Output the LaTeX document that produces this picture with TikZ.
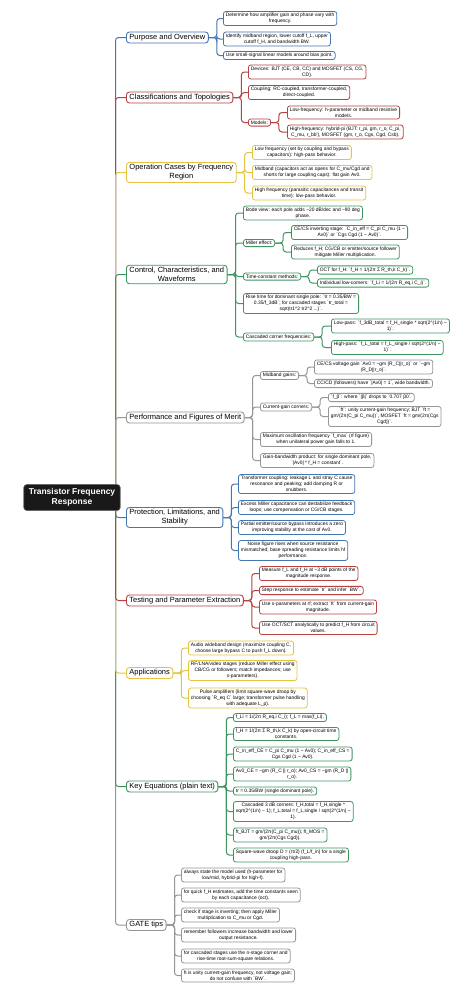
\documentclass[tikz,border=0pt]{standalone}
\usepackage{fontspec}
\newfontfamily\lsans{Liberation Sans}
\usetikzlibrary{backgrounds}
\definecolor{cB}{RGB}{70,118,178}
\definecolor{cR}{RGB}{184,66,66}
\definecolor{cY}{RGB}{228,196,64}
\definecolor{cG}{RGB}{62,150,94}
\definecolor{cK}{RGB}{150,150,150}
\newcommand\crt{\textasciicircum{}}
\tikzset{
  mainnode/.style={draw=#1, fill=white, rounded corners=3pt, line width=0.9pt, align=center, anchor=west, font=\lsans\fontsize{7.5}{9}\selectfont, inner xsep=3pt, inner ysep=2pt},
  leafnode/.style={draw=#1, fill=white, rounded corners=2.5pt, line width=0.8pt, align=center, anchor=west, font=\lsans\fontsize{4.9}{5.9}\selectfont, inner xsep=2.5pt, inner ysep=1.8pt},
  rootnode/.style={fill=black!90, draw=black!60, rounded corners=3pt, line width=0.6pt, align=center, text=white, font=\lsans\bfseries\fontsize{8.5}{10}\selectfont, inner xsep=5pt, inner ysep=4pt},
  link/.style={draw=#1, line width=1pt, rounded corners=3pt},
}
\begin{document}
\begin{tikzpicture}[x=1pt,y=-1pt]
\useasboundingbox (0,0) rectangle (474,994);

\node[rootnode] (root) at (72,497.5) {Transistor Frequency\\Response};

% main branches
\node[mainnode=cB] (pur) at (126,37.5) {Purpose and Overview};
\node[mainnode=cR] (cls) at (126,97.5) {Classifications and Topologies};
\node[mainnode=cY] (ope) at (126,172.5) {Operation Cases by Frequency\\Region};
\node[mainnode=cG] (ctl) at (126,274.5) {Control, Characteristics, and\\Waveforms};
\node[mainnode=cK] (prf) at (126,417.5) {Performance and Figures of Merit};
\node[mainnode=cB] (prt) at (126,517.5) {Protection, Limitations, and\\Stability};
\node[mainnode=cR] (tst) at (126,600.5) {Testing and Parameter Extraction};
\node[mainnode=cY] (app) at (126,673) {Applications};
\node[mainnode=cG] (keq) at (126,786.5) {Key Equations (plain text)};
\node[mainnode=cK] (gat) at (126,925) {GATE tips};

% Purpose
\node[leafnode=cB] (p1) at (223,18.5) {Determine how amplifier gain and phase vary with\\frequency.};
\node[leafnode=cB] (p2) at (223,39) {Identify midband region, lower cutoff f\_L, upper\\cutoff f\_H, and bandwidth BW.};
\node[leafnode=cB] (p3) at (223,55.5) {Use small-signal linear models around bias point.};

% Classifications
\node[leafnode=cR] (c1) at (248,72) {Devices: BJT (CE, CB, CC) and MOSFET (CS, CG,\\CD).};
\node[leafnode=cR] (c2) at (248,92.5) {Coupling: RC-coupled, transformer-coupled,\\direct-coupled.};
\node[leafnode=cR] (c3) at (248,122.5) {Models:};
\node[leafnode=cR] (c3a) at (287,112.5) {Low-frequency: h-parameter or midband resistive\\models.};
\node[leafnode=cR] (c3b) at (287,132) {High-frequency: hybrid-pi (BJT: r\_pi, gm, r\_o, C\_pi,\\C\_mu, r\_bb'), MOSFET (gm, r\_o, Cgs, Cgd, Csb).};

% Operation
\node[leafnode=cY] (o1) at (252,152.5) {Low frequency (set by coupling and bypass\\capacitors): high-pass behavior.};
\node[leafnode=cY] (o2) at (252,172.5) {Midband (capacitors act as opens for C\_mu/Cgd and\\shorts for large coupling caps): flat gain Av0.};
\node[leafnode=cY] (o3) at (252,193) {High frequency (parasitic capacitances and transit\\time): low-pass behavior.};

% Control
\node[leafnode=cG] (k1) at (243,213) {Bode view: each pole adds −20 dB/dec and −90 deg\\phase.};
\node[leafnode=cG] (k2) at (243,243) {Miller effect:};
\node[leafnode=cG] (k2a) at (291,232.5) {CE/CS inverting stage: `C\_in\_eff = C\_pi C\_mu (1 −\\Av0)` or `Cgs Cgd (1 − Av0)`.};
\node[leafnode=cG] (k2b) at (291,252) {Reduces f\_H; CG/CB or emitter/source follower\\mitigate Miller multiplication.};
\node[leafnode=cG] (k3) at (243,276.5) {Time-constant methods:};
\node[leafnode=cG] (k3a) at (317,270) {OCT for f\_H: `f\_H = 1/(2π Σ R\_th,k C\_k)`.};
\node[leafnode=cG] (k3b) at (317,283) {Individual low-corners: `f\_Li = 1/(2π R\_eq,i C\_i)`.};
\node[leafnode=cG] (k4) at (243,303.5) {Rise time for dominant single pole: `tr = 0.35/BW =\\0.35/f\_3dB`; for cascaded stages `tr\_total =\\sqrt(tr1\crt2 tr2\crt2 ...)`.};
\node[leafnode=cG] (k5) at (243,337) {Cascaded corner frequencies:};
\node[leafnode=cG] (k5a) at (331,326) {Low-pass: `f\_3dB\_total = f\_H\_single * sqrt(2\crt(1/n) −\\1)`.};
\node[leafnode=cG] (k5b) at (331,347.5) {High-pass: `f\_L\_total = f\_L\_single / sqrt(2\crt(1/n) −\\1)`.};

% Performance
\node[leafnode=cK] (f1) at (260,375.5) {Midband gains:};
\node[leafnode=cK] (f1a) at (314,367) {CE/CS voltage gain `Av0 = −gm (R\_C||r\_o)` or `−gm\\(R\_D||r\_o)`.};
\node[leafnode=cK] (f1b) at (314,383.5) {CC/CD (followers) have `|Av0| = 1`, wide bandwidth.};
\node[leafnode=cK] (f2) at (260,407) {Current-gain corners:};
\node[leafnode=cK] (f2a) at (328,397.5) {`f\_β`: where `|β|` drops to `0.707 β0`.};
\node[leafnode=cK] (f2b) at (328,416.5) {`ft`: unity current-gain frequency; BJT `ft =\\gm/(2π(C\_pi C\_mu))`, MOSFET `ft = gm/(2π(Cgs\\Cgd))`.};
\node[leafnode=cK] (f3) at (260,439.5) {Maximum oscillation frequency `f\_max` (rf figure)\\when unilateral power gain falls to 1.};
\node[leafnode=cK] (f4) at (260,460.5) {Gain-bandwidth product: for single dominant pole,\\`|Av0| * f\_H = constant`.};

% Protection
\node[leafnode=cB] (r1) at (238,484) {Transformer coupling: leakage L and stray C cause\\resonance and peaking; add damping R or\\snubbers.};
\node[leafnode=cB] (r2) at (238,507.5) {Excess Miller capacitance can destabilize feedback\\loops; use compensation or CG/CB stages.};
\node[leafnode=cB] (r3) at (238,527.5) {Partial emitter/source bypass introduces a zero\\improving stability at the cost of Av0.};
\node[leafnode=cB] (r4) at (238,550.5) {Noise figure rises when source resistance\\mismatched; base spreading resistance limits hf\\performance.};

% Testing
\node[leafnode=cR] (t1) at (259,573.5) {Measure f\_L and f\_H at −3 dB points of the\\magnitude response.};
\node[leafnode=cR] (t2) at (259,590.5) {Step response to estimate `tr` and infer `BW`.};
\node[leafnode=cR] (t3) at (259,607) {Use s-parameters at rf; extract `ft` from current-gain\\magnitude.};
\node[leafnode=cR] (t4) at (259,628) {Use OCT/SCT analytically to predict f\_H from circuit\\values.};

% Applications
\node[leafnode=cY] (a1) at (188,648) {Audio wideband design (maximize coupling C,\\choose large bypass C to push f\_L down).};
\node[leafnode=cY] (a2) at (188,670.5) {RF/LNA/video stages (reduce Miller effect using\\CB/CG or followers; match impedances; use\\s-parameters).};
\node[leafnode=cY] (a3) at (188,698) {Pulse amplifiers (limit square-wave droop by\\choosing `R\_eq C` large; transformer pulse handling\\with adequate L\_p).};

% Key equations
\node[leafnode=cG] (e1) at (233,717.5) {f\_Li = 1/(2π R\_eq,i C\_i); f\_L = max(f\_Li).};
\node[leafnode=cG] (e2) at (233,734) {f\_H = 1/(2π Σ R\_th,k C\_k) by open-circuit time\\constants.};
\node[leafnode=cG] (e3) at (233,754) {C\_in\_eff\_CE = C\_pi C\_mu (1 − Av0); C\_in\_eff\_CS =\\Cgs Cgd (1 − Av0).};
\node[leafnode=cG] (e4) at (233,774) {Av0\_CE = −gm (R\_C || r\_o); Av0\_CS = −gm (R\_D ||\\r\_o).};
\node[leafnode=cG] (e5) at (233,791) {tr = 0.35/BW (single dominant pole).};
\node[leafnode=cG] (e6) at (233,811.5) {Cascaded 3 dB corners: f\_H,total = f\_H,single *\\sqrt(2\crt(1/n) − 1); f\_L,total = f\_L,single / sqrt(2\crt(1/n) −\\1).};
\node[leafnode=cG] (e7) at (233,835) {ft\_BJT = gm/(2π(C\_pi C\_mu)); ft\_MOS =\\gm/(2π(Cgs Cgd)).};
\node[leafnode=cG] (e8) at (233,855) {Square-wave droop D = (π/2) (f\_L/f\_in) for a single\\coupling high-pass.};

% GATE tips
\node[leafnode=cK] (g1) at (181,875) {always state the model used (h-parameter for\\low/mid, hybrid-pi for high-f).};
\node[leafnode=cK] (g2) at (181,895) {for quick f\_H estimates, add the time constants seen\\by each capacitance (oct).};
\node[leafnode=cK] (g3) at (181,915) {check if stage is inverting; then apply Miller\\multiplication to C\_mu or Cgd.};
\node[leafnode=cK] (g4) at (181,935) {remember followers increase bandwidth and lower\\output resistance.};
\node[leafnode=cK] (g5) at (181,956) {for cascaded stages use the n-stage corner and\\rise-time root-sum-square relations.};
\node[leafnode=cK] (g6) at (181,975.5) {ft is unity current-gain frequency, not voltage gain;\\do not confuse with `BW`.};

\begin{scope}[on background layer]
  \fill[white] (0,0) rectangle (474,994);
  % root to main branches: top in natural order, bottom in reverse
  \foreach \n/\c in {pur/cB, cls/cR, ope/cY, ctl/cG, prf/cK, gat/cK, keq/cG, app/cY, tst/cR, prt/cB}
    \draw[link=\c] ([xshift=-5pt]root.east) |- (\n.west);
  % parent to leaves
  \foreach \p/\c/\l in {pur/cB/{p1,p2,p3}, cls/cR/{c1,c2,c3}, c3/cR/{c3a,c3b},
      ope/cY/{o1,o2,o3}, ctl/cG/{k1,k2,k3,k4,k5}, k2/cG/{k2a,k2b}, k3/cG/{k3a,k3b}, k5/cG/{k5a,k5b},
      prf/cK/{f1,f2,f3,f4}, f1/cK/{f1a,f1b}, f2/cK/{f2a,f2b},
      prt/cB/{r1,r2,r3,r4}, tst/cR/{t1,t2,t3,t4}, app/cY/{a1,a2,a3},
      keq/cG/{e1,e2,e3,e4,e5,e6,e7,e8}, gat/cK/{g1,g2,g3,g4,g5,g6}}
    \foreach \x in \l
      \draw[link=\c] (\p.east) -- ++(8pt,0) |- (\x.west);
\end{scope}
\end{tikzpicture}
\end{document}
